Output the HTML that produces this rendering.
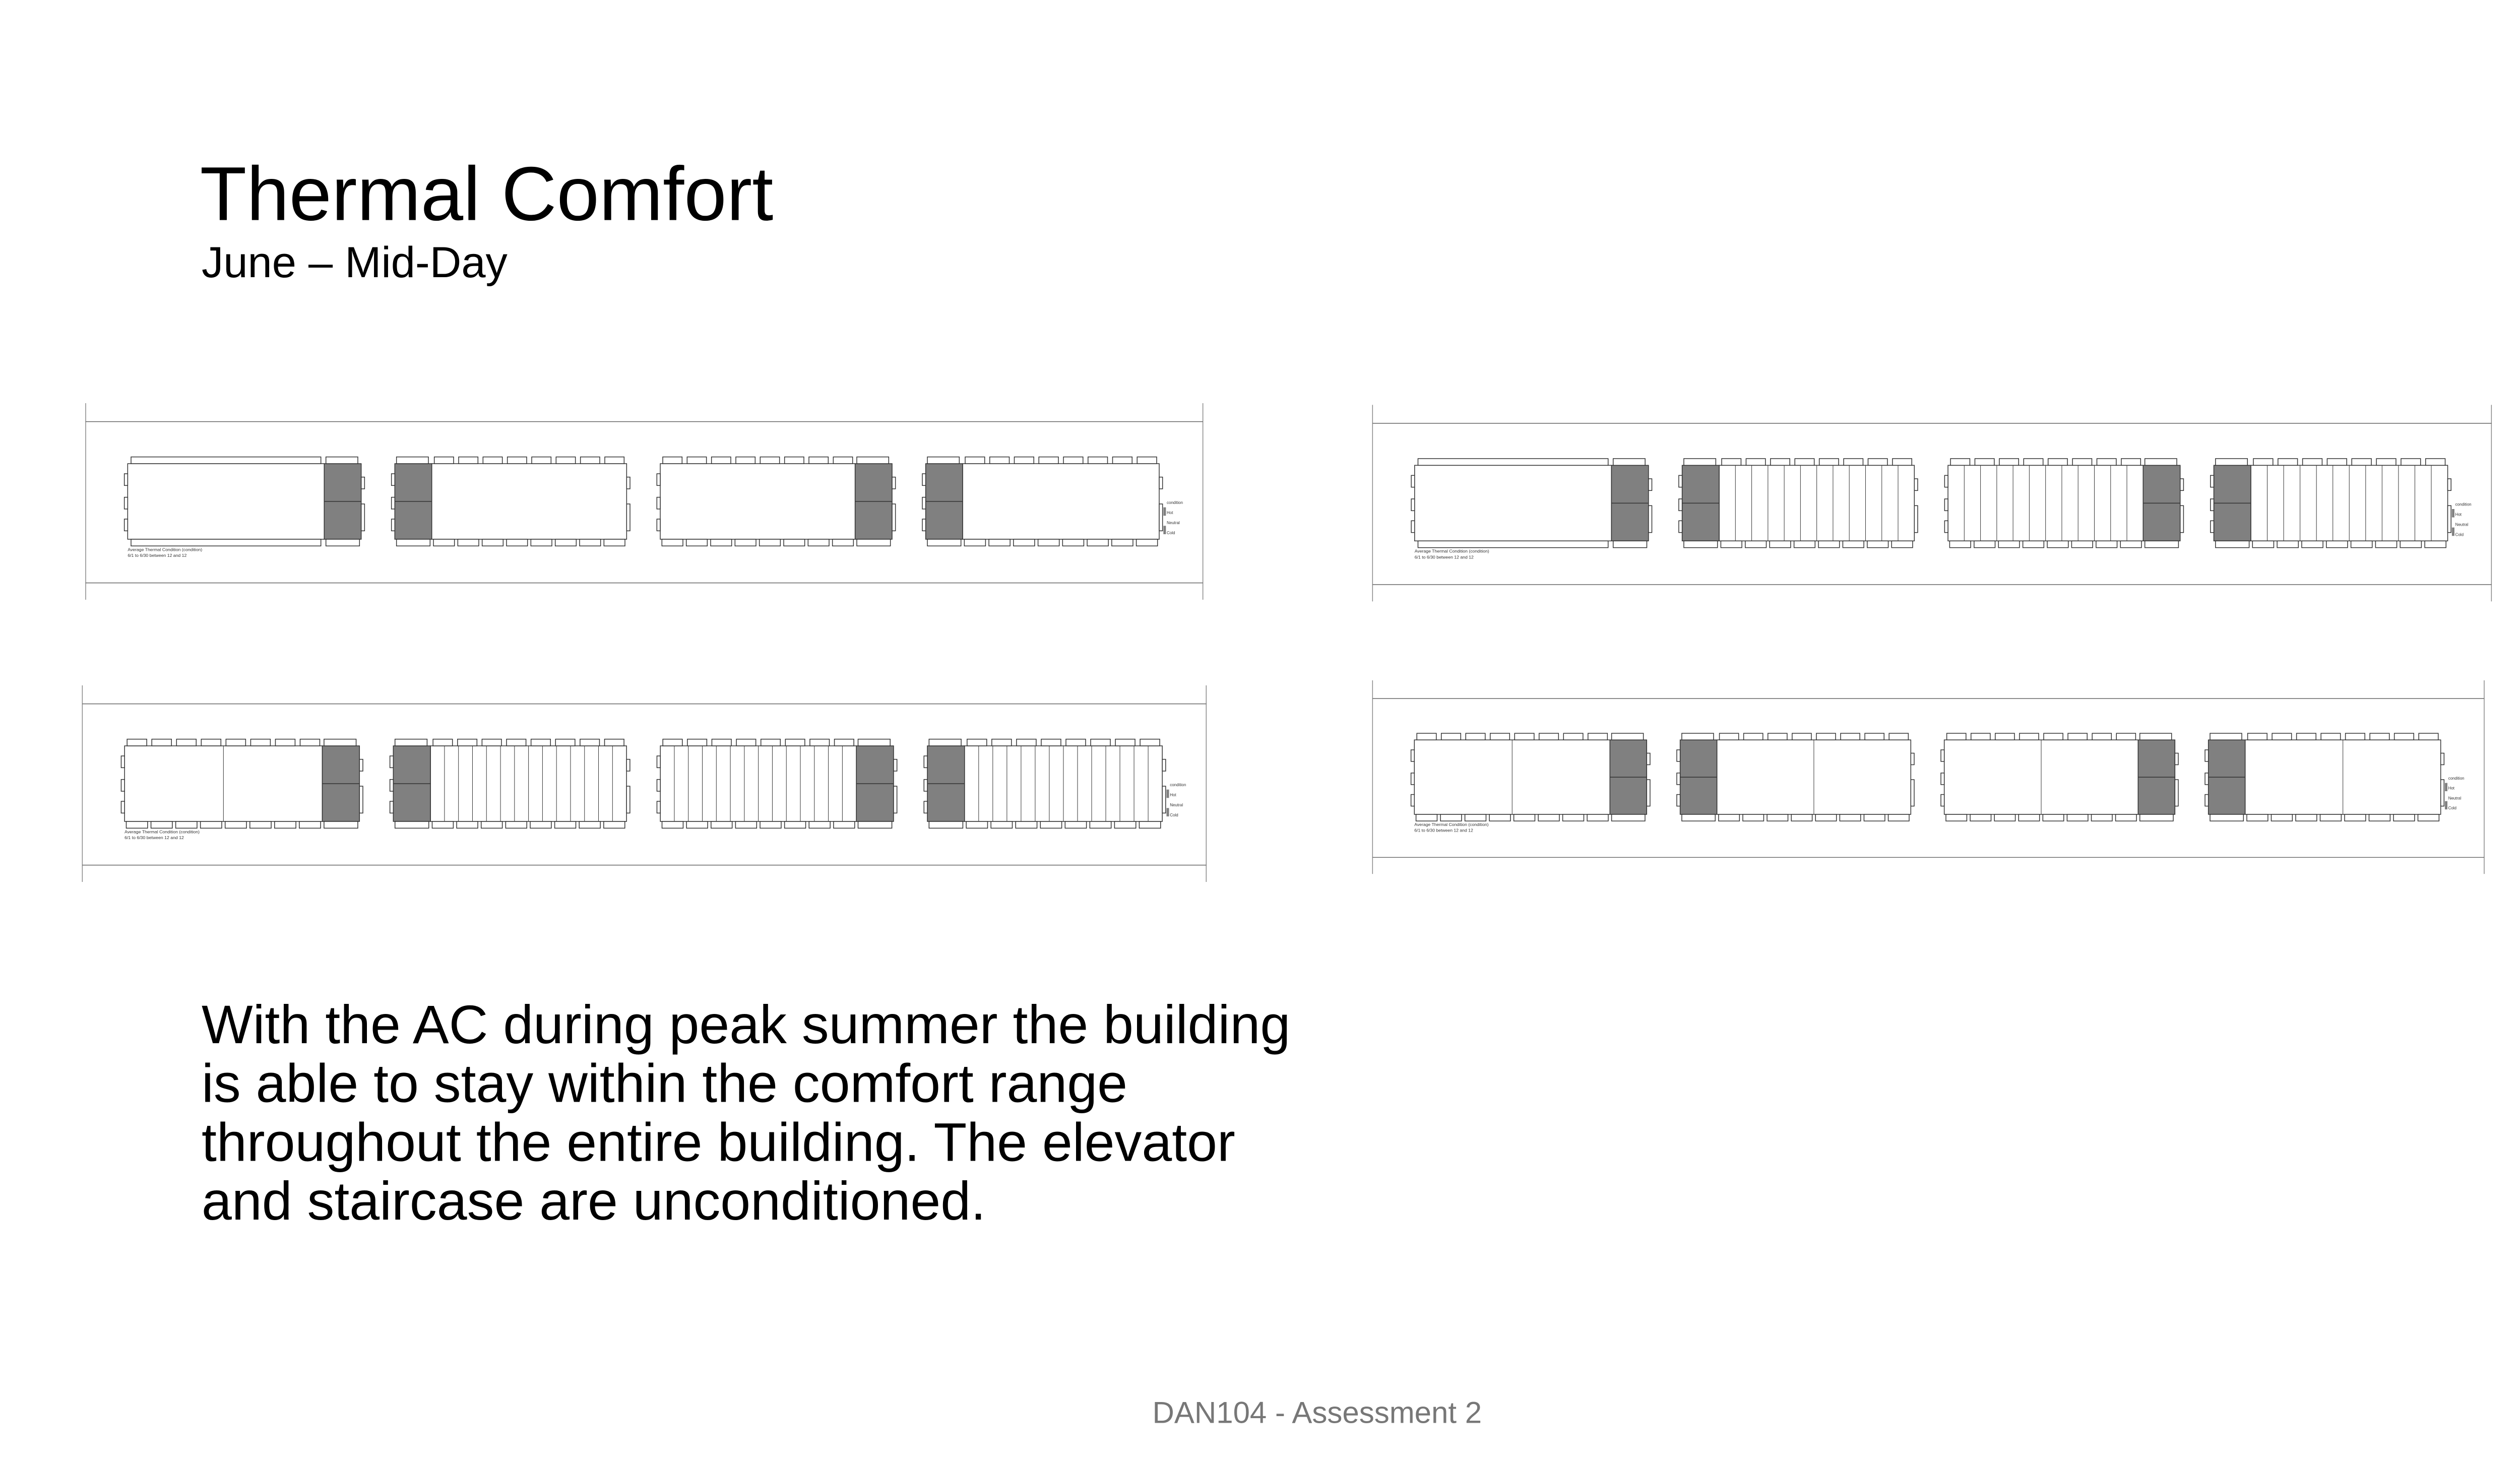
<!DOCTYPE html>
<html><head><meta charset="utf-8"><style>
html,body{margin:0;padding:0;background:#fff;}
body{width:5160px;height:2903px;overflow:hidden;}
svg{display:block}
</style></head><body>
<svg id="s" width="5160" height="2903" viewBox="0 0 1548 870.9" xmlns="http://www.w3.org/2000/svg">
<rect width="1548" height="871" fill="#fff"/>
<text x="119" y="131" font-family="Liberation Sans, sans-serif" font-size="45.5" fill="#000">Thermal Comfort</text>
<text x="120" y="165" font-family="Liberation Sans, sans-serif" font-size="26" fill="#000">June – Mid-Day</text>
<g font-family="Liberation Sans, sans-serif" font-size="32.3" fill="#000">
<text x="120" y="621">With the AC during peak summer the building</text>
<text x="120" y="656">is able to stay within the comfort range</text>
<text x="120" y="691">throughout the entire building. The elevator</text>
<text x="120" y="726">and staircase are unconditioned.</text>
</g>
<text x="784" y="847" text-anchor="middle" font-family="Liberation Sans, sans-serif" font-size="18" fill="#777">DAN104 - Assessment 2</text>
<g id="panels"></g>
</svg>
<script>
var NS="http://www.w3.org/2000/svg",P=document.getElementById("panels");
function el(t,a,p){var e=document.createElementNS(NS,t);for(var k in a)e.setAttribute(k,a[k]);(p||P).appendChild(e);return e;}
function panel(px,py,sx,sy,divs,variant){
 var g=el("g",{transform:"translate("+px+","+py+") scale("+sx+","+sy+")",fill:"none",stroke:"#333","stroke-width":"0.45"});
 el("line",{x1:0,y1:0,x2:0,y2:117,stroke:"#888"},g);
 el("line",{x1:665,y1:0,x2:665,y2:117,stroke:"#888"},g);
 el("line",{x1:0,y1:11,x2:665,y2:11,stroke:"#666"},g);
 el("line",{x1:0,y1:107,x2:665,y2:107,stroke:"#666"},g);
 var B=[[25,142,164,1],[184,206,322,0],[342,458,480,1],[500,522,639,0]];
 B.forEach(function(b,i){
  var top=36,bot=81;
  var wx0,wx1,dx0,dx1;
  if(b[3]){wx0=b[0];wx1=b[1];dx0=b[1];dx1=b[2];}else{dx0=b[0];dx1=b[1];wx0=b[1];wx1=b[2];}
  el("rect",{x:wx0,y:top,width:wx1-wx0,height:bot-top,fill:"#fff"},g);
  el("rect",{x:dx0,y:top,width:dx1-dx0,height:bot-top,fill:"#808080"},g);
  el("line",{x1:dx0,y1:(top+bot)/2,x2:dx1,y2:(top+bot)/2},g);
  el("rect",{x:dx0+1,y:top-4,width:dx1-dx0-3,height:4,fill:"#fff"},g);
  el("rect",{x:dx0+1,y:bot,width:dx1-dx0-2,height:4,fill:"#fff"},g);
  if(i==0&&variant<=1){
   el("rect",{x:wx0+2,y:top-4,width:wx1-wx0-4,height:4,fill:"#fff"},g);
   el("rect",{x:wx0+2,y:bot,width:wx1-wx0-4,height:4,fill:"#fff"},g);
  } else {
   var n=8,w=(wx1-wx0)/n;
   for(var j=0;j<n;j++){
    el("rect",{x:wx0+j*w+1.5,y:top-4,width:w-3,height:4,fill:"#fff"},g);
    el("rect",{x:wx0+j*w+1,y:bot,width:w-2,height:4,fill:"#fff"},g);
   }
  }
  var d=divs[i];
  for(var j=1;j<d;j++){var xx=wx0+(wx1-wx0)*j/d;el("line",{x1:xx,y1:top,x2:xx,y2:bot,"stroke-width":"0.3"},g);}
  el("rect",{x:b[0]-2,y:top+6,width:2,height:7,fill:"#fff"},g);
  el("rect",{x:b[0]-2,y:top+20,width:2,height:7,fill:"#fff"},g);
  el("rect",{x:b[0]-2,y:top+33,width:2,height:7,fill:"#fff"},g);
  el("rect",{x:b[2],y:top+8,width:2,height:7,fill:"#fff"},g);
  el("rect",{x:b[2],y:top+24,width:2,height:16,fill:"#fff"},g);
 });
 var t=el("text",{x:25,y:88,"font-size":"2.6",fill:"#333",stroke:"none","font-family":"Liberation Sans, sans-serif"},g);t.textContent="Average Thermal Condition (condition)";
 t=el("text",{x:25,y:91.5,"font-size":"2.6",fill:"#333",stroke:"none","font-family":"Liberation Sans, sans-serif"},g);t.textContent="6/1 to 6/30 between 12 and 12";
 el("rect",{x:641.5,y:62,width:1.5,height:5,fill:"#808080",stroke:"none"},g);
 el("rect",{x:641.5,y:73,width:1.5,height:5,fill:"#808080",stroke:"none"},g);
 [["condition",60],["Hot",66],["Neutral",72],["Cold",78]].forEach(function(a){var tt=el("text",{x:643.5,y:a[1],"font-size":"2.4",fill:"#333",stroke:"none","font-family":"Liberation Sans, sans-serif"},g);tt.textContent=a[0];});
}
panel(51,240,1,1,[1,1,1,1],0);
panel(817,241,1.0015,1,[1,12,12,12],1);
panel(49,408,1.006,1,[2,14,14,14],2);
panel(817,405,0.995,0.985,[2,2,2,2],2);
</script>
</body></html>
